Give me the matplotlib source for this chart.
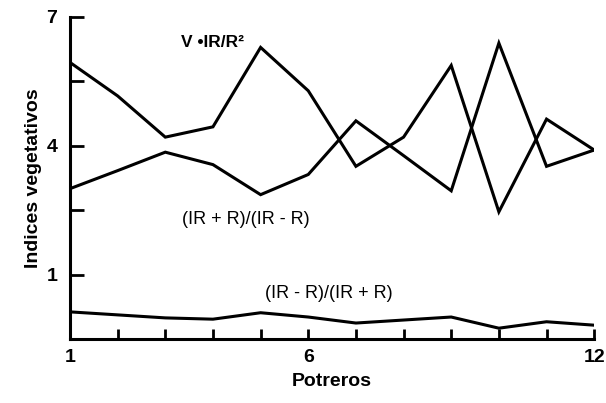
import matplotlib
matplotlib.use("Agg")
import matplotlib.pyplot as plt

plt.rcParams['font.family'] = ['Liberation Sans', 'DejaVu Sans']

potreros = list(range(1, 13))
v_ir_r2 = [5.94, 5.16, 4.2, 4.44, 6.29, 5.28, 3.52, 4.2, 5.87, 2.46, 4.62, 3.9]
ratio_sum = [3.0, 3.42, 3.85, 3.56, 2.86, 3.33, 4.58, 3.77, 2.95, 6.39, 3.52, 3.9]
ndvi = [0.13, 0.06, -0.01, -0.04, 0.11, 0.01, -0.13, -0.06, 0.01, -0.25, -0.1, -0.18]

xtick_labels = {1: '1', 6: '6', 12: '12'}
ytick_vals = [1, 2.5, 4, 5.5, 7]
ytick_labels = ['1', '', '4', '', '7']

fig = plt.figure(figsize=(6.06, 4.03), dpi=100)
ax = fig.add_axes([0.1155, 0.159, 0.865, 0.799])

for series in (v_ir_r2, ratio_sum, ndvi):
    ax.plot(potreros, series, color='black', lw=2.2, solid_joinstyle='miter')

ax.set_xlim(1, 12)
ax.set_ylim(-0.5, 7)

for k, v in ax.spines.items():
    if k in ('top', 'right'):
        v.set_visible(False)
    else:
        v.set_linewidth(2.2)

ax.set_xticks(potreros)
ax.set_xticklabels([xtick_labels.get(p, '') for p in potreros])
ax.set_yticks(ytick_vals)
ax.set_yticklabels(ytick_labels)
ax.tick_params(axis='x', direction='in', length=7, width=2, pad=7, labelsize=14)
ax.tick_params(axis='y', direction='in', length=10, width=2, pad=9, labelsize=14)
for lab in ax.get_xticklabels() + ax.get_yticklabels():
    lab.set_fontweight('bold')

ax.set_xlabel('Potreros', fontsize=14, fontweight='bold', labelpad=5)
ax.set_ylabel('Indices vegetativos', fontsize=14, fontweight='bold', labelpad=3)

ax.text(4.0, 6.41, 'V •IR/R²', fontsize=12.5, fontweight='bold', ha='center', va='center')
ax.text(4.7, 2.27, '(IR + R)/(IR - R)', fontsize=13, ha='center', va='center')
ax.text(6.44, 0.55, '(IR - R)/(IR + R)', fontsize=13, ha='center', va='center')

plt.savefig('out.png', dpi=100)
plt.close()
